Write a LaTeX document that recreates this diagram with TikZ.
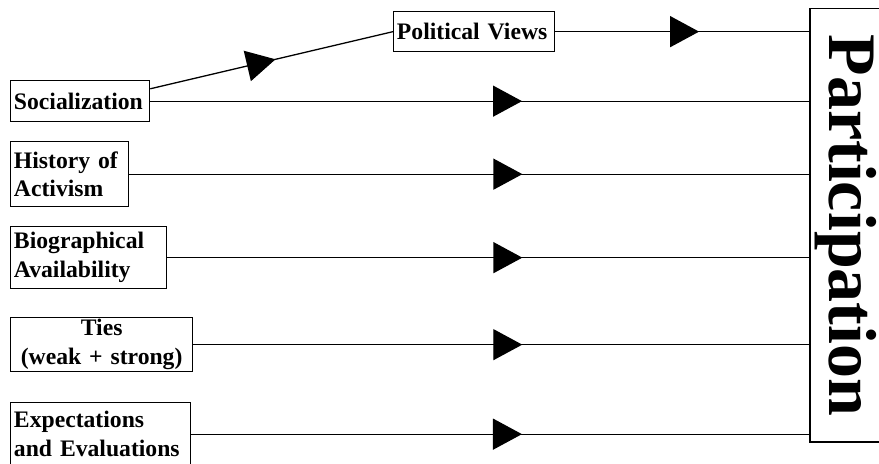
\documentclass[tikz,border=0pt]{standalone}
\usepackage{fontspec}
\setmainfont{Liberation Serif}
\usetikzlibrary{arrows.meta, decorations.markings}

\begin{document}
\begin{tikzpicture}[x=0.03cm, y=-0.03cm,
  every node/.style={draw, line width=1.1pt, inner xsep=0.1cm, inner ysep=0pt, font=\fontsize{20.2pt}{24.5pt}\selectfont\bfseries},
  factor/.style={anchor=north west, align=left},
  flow/.style={line width=1.1pt, postaction={decorate}, decoration={markings, mark=at position #1 with {\arrow{Triangle[length=0.87cm, width=0.93cm]}}}}]
\useasboundingbox (0,0) rectangle (879,463);
\clip (0,0) rectangle (879,463);

%factors
\node[factor, text width=4.63cm, minimum height=1.2cm] (pol) at (393,11) {Political Views};
\node[factor, text width=3.97cm, minimum height=1.23cm] (soc) at (10,80) {Socialization};
\node[factor, text width=3.34cm, minimum height=1.95cm] (hist) at (10,141) {History of\\Activism};
\node[factor, text width=4.48cm, minimum height=1.86cm] (bio) at (10,226) {Biographical\\Availability};
\node[factor, text width=5.26cm, minimum height=1.62cm, align=center] (ties) at (10,317) {Ties\\(weak + strong)};
\node[factor, text width=5.2cm, minimum height=1.89cm] (exp) at (10,402) {Expectations\\and Evaluations};

%outcome
\node[rotate=-90, minimum width=13cm, minimum height=2.58cm, text depth=0pt, font=\fontsize{58pt}{60pt}\selectfont\bfseries] (part) at (853,225.4) {Participation};

\draw[flow=0.516] (soc.10) -- (pol.west);
\draw[flow=0.566] (pol.east) -- (pol.east -| part.south);
\draw[flow=0.564] (soc.east) -- (soc.east -| part.south);
\draw[flow=0.578] (hist.east) -- (hist.east -| part.south);
\draw[flow=0.553] (bio.east) -- (bio.east -| part.south);
\draw[flow=0.534] (ties.east) -- (ties.east -| part.south);
\draw[flow=0.535] (exp.east) -- (exp.east -| part.south);
\end{tikzpicture}
\end{document}
